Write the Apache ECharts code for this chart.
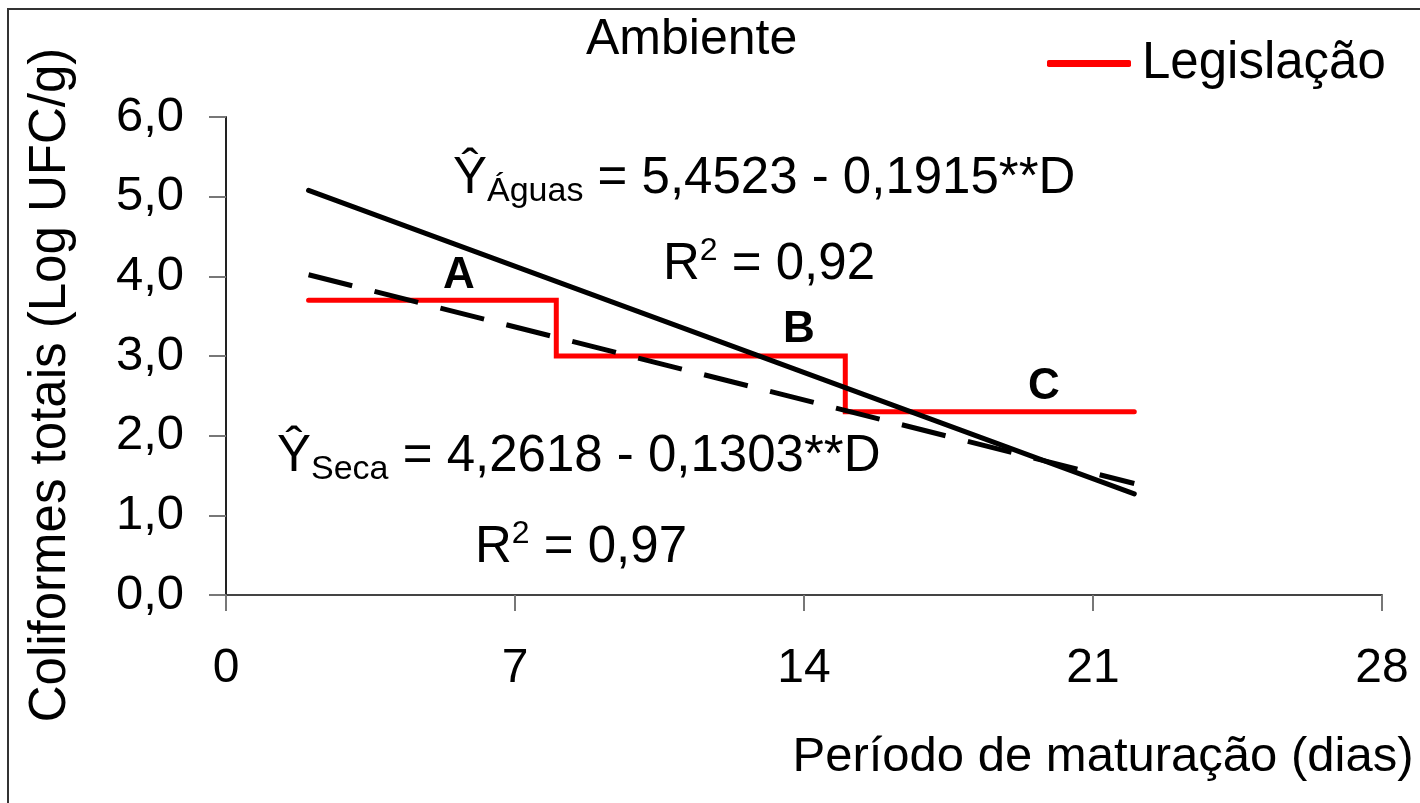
<!DOCTYPE html>
<html>
<head>
<meta charset="utf-8">
<script src="https://cdn.jsdelivr.net/npm/echarts@6/dist/echarts.min.js"></script>
<style>
  html, body { margin: 0; padding: 0; background: #fff; }
  #chart { width: 1420px; height: 803px; }
</style>
</head>
<body>
<div id="chart"></div>
<script>
// ---- data ----
const xTicks = [0, 7, 14, 21, 28];
const yTickLabels = ['0,0', '1,0', '2,0', '3,0', '4,0', '5,0', '6,0'];

const legislacaoDias = [2, 8, 8, 15, 15, 22];
const legislacaoValores = [3.7, 3.7, 3.0, 3.0, 2.3, 2.3];

const aguasDias = [2, 22];
const aguasValores = [5.08, 1.27];

const secaDias = [2, 22];
const secaValores = [4.02, 1.40];

const faixaLetras = ['A', 'B', 'C'];

const FONT = "'Liberation Sans', Arial, sans-serif";

function pairs(xs, ys) { return xs.map((x, i) => [x, ys[i]]); }

const chart = echarts.init(document.getElementById('chart'));

const richBase = {
  m: { fontSize: 51, lineHeight: 60, fontFamily: FONT, color: '#000' },
  s: { fontSize: 34, lineHeight: 30, verticalAlign: 'bottom', fontFamily: FONT, color: '#000' },
  p: { fontSize: 32, lineHeight: 18, verticalAlign: 'top', fontFamily: FONT, color: '#000' }
};

function eqText(x, y, text) {
  return {
    type: 'text', left: x, top: y, z: 10,
    style: { text: text, rich: richBase, fontFamily: FONT, fill: '#000' }
  };
}
function letterText(x, y, t) {
  return {
    type: 'text', x: x, y: y, z: 10,
    style: { text: t, fontSize: 44, fontWeight: 'bold', fontFamily: FONT, fill: '#000',
             align: 'center', verticalAlign: 'middle' }
  };
}

const option = {
  animation: false,
  backgroundColor: '#fff',
  title: {
    text: 'Ambiente', left: 586, top: 15, padding: 0,
    textStyle: { fontSize: 50, fontWeight: 'normal', fontFamily: FONT, color: '#000' }
  },
  legend: {
    data: ['Legislação'], left: 1047, top: 38, padding: 0,
    icon: 'roundRect', itemWidth: 84, itemHeight: 7,
    textStyle: { fontSize: 51, fontFamily: FONT, color: '#000', padding: [0, 0, 0, 6] }
  },
  grid: { left: 226, right: 38, top: 117, bottom: 208, containLabel: false, outerBoundsMode: 'none' },
  xAxis: {
    type: 'value', min: 0, max: 28, interval: 7,
    name: 'Período de maturação (dias)', nameLocation: 'middle', nameGap: 138,
    nameTextStyle: { fontSize: 49, fontFamily: FONT, color: '#000', padding: [0, 0, 0, 598] },
    axisLine: { show: true, onZero: false, lineStyle: { color: '#444', width: 2 } },
    axisTick: { show: true, length: 16, inside: false, lineStyle: { color: '#777', width: 2 } },
    axisLabel: { fontSize: 48, fontFamily: FONT, color: '#000', margin: 50,
                 formatter: v => (xTicks.indexOf(v) >= 0 ? String(v) : '') },
    splitLine: { show: false }
  },
  yAxis: {
    type: 'value', min: 0, max: 6, interval: 1,
    name: 'Coliformes totais (Log UFC/g)', nameLocation: 'middle', nameGap: 150,
    nameTextStyle: { fontSize: 51, fontFamily: FONT, color: '#000', padding: [0, 58, 0, 0] },
    axisLine: { show: true, lineStyle: { color: '#222', width: 2 } },
    axisTick: { show: true, length: 17, lineStyle: { color: '#777', width: 2 } },
    axisLabel: { fontSize: 49, fontFamily: FONT, color: '#000', margin: 42,
                 formatter: v => yTickLabels[Math.round(v)] },
    splitLine: { show: false }
  },
  series: [
    {
      name: 'Águas', type: 'line', data: pairs(aguasDias, aguasValores),
      symbol: 'none', silent: true, z: 3,
      lineStyle: { color: '#000', width: 5, cap: 'round' }
    },
    {
      name: 'Seca', type: 'line', data: pairs(secaDias, secaValores),
      symbol: 'none', silent: true, z: 3,
      lineStyle: { color: '#000', width: 5, type: [45, 23], cap: 'butt' }
    },
    {
      name: 'Legislação', type: 'line', data: pairs(legislacaoDias, legislacaoValores),
      symbol: 'none', silent: true, z: 2,
      itemStyle: { color: '#ff0000' },
      lineStyle: { color: '#ff0000', width: 5, cap: 'round', join: 'miter' }
    }
  ],
  graphic: [
    {
      type: 'polyline', silent: true,
      shape: { points: [[8, 803], [8, 9], [1420, 9]] },
      style: { stroke: '#333', lineWidth: 2, fill: null }
    },
    eqText(453, 153, '{m|Ŷ}{s|Águas}{m| = 5,4523 - 0,1915**D}'),
    eqText(663, 235, '{m|R}{p|2}{m| = 0,92}'),
    eqText(277, 431, '{m|Ŷ}{s|Seca}{m| = 4,2618 - 0,1303**D}'),
    eqText(475, 518, '{m|R}{p|2}{m| = 0,97}'),
    letterText(459, 276, faixaLetras[0]),
    letterText(799, 330, faixaLetras[1]),
    letterText(1044, 387, faixaLetras[2])
  ]
};

chart.setOption(option);
</script>
</body>
</html>
